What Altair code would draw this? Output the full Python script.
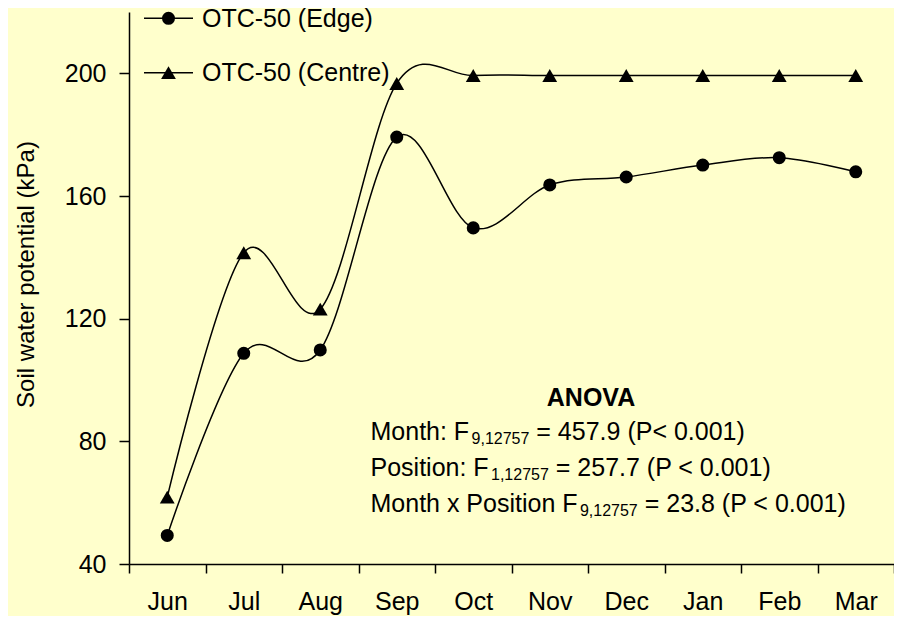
import altair as alt
import pandas as pd

months = ["Jun", "Jul", "Aug", "Sep", "Oct", "Nov", "Dec", "Jan", "Feb", "Mar"]
series_names = ["OTC-50 (Edge)", "OTC-50 (Centre)"]
edge = [49.3, 108.7, 109.8, 179.2, 149.6, 163.6, 166.2, 170.1, 172.5, 167.9]
centre = [61.8, 141.5, 123.1, 196.7, 199.3, 199.3, 199.3, 199.3, 199.3, 199.3]
y_ticks = [40, 80, 120, 160, 200]
y_domain = [40, 220]
y_title = "Soil water potential (kPa)"
anova_title = "ANOVA"
anova_lines = [
    ("Month: F", "9,12757", " = 457.9 (P< 0.001)"),
    ("Position: F", "1,12757", " = 257.7 (P < 0.001)"),
    ("Month x Position F", "9,12757", " = 23.8 (P < 0.001)"),
]

FONT = "Liberation Sans"
BG = "#FFFFCC"
W, H = 765, 552

df = pd.DataFrame({
    "month": months * 2,
    "value": edge + centre,
    "series": [series_names[0]] * len(months) + [series_names[1]] * len(months),
})

# Arial / Liberation Sans advance widths (per 1000 em)
AW = {" ": 278, "M": 833, "o": 556, "n": 556, "t": 278, "h": 556, ":": 278, "F": 611,
      ",": 278, "=": 584, ".": 278, "(": 333, ")": 333, "P": 667, "<": 584, "x": 500,
      "s": 500, "i": 222}
for d in "0123456789":
    AW[d] = 556


def tw(s, size):
    return sum(AW.get(c, 556) for c in s) * size / 1000.0


x_enc = alt.X("month:O", sort=months, bandPosition=0.5,
              scale=alt.Scale(type="band", paddingInner=0, paddingOuter=0),
              axis=alt.Axis(title=None, tickBand="extent", labelAngle=0, labelFontSize=25,
                            labelBaseline="alphabetic", labelPadding=36, tickSize=9,
                            domainWidth=1.5, tickWidth=1.5, grid=False))
y_enc = alt.Y("value:Q", scale=alt.Scale(domain=y_domain, nice=False, zero=False),
              axis=alt.Axis(values=y_ticks, title=y_title, grid=False, tickSize=10,
                            labelPadding=13, labelFontSize=25, titleFontSize=24,
                            titleFontWeight="normal", titleX=-96, titleY=262,
                            titleAngle=-90, titleBaseline="alphabetic", titleAlign="center",
                            domainWidth=1.5, tickWidth=1.5))

base = alt.Chart(df)
lines = base.mark_line(interpolate="cardinal", color="black", strokeWidth=1.5).encode(
    x=x_enc, y=y_enc, detail="series:N")
points = base.mark_point(filled=True, color="black", opacity=1).encode(
    x=x_enc, y=y_enc,
    shape=alt.Shape("series:N", scale=alt.Scale(domain=series_names, range=["circle", "triangle-up"]), legend=None),
    size=alt.Size("series:N", scale=alt.Scale(domain=series_names, range=[170, 220]), legend=None),
)

layers = [lines, points]

# manual legend
leg_y = [6.3, 60.7]
shapes = ["circle", "triangle-up"]
sizes = [170, 220]
for name, ly, shp, sz in zip(series_names, leg_y, shapes, sizes):
    ldf = pd.DataFrame({"t": [name]})
    lc = alt.Chart(ldf)
    layers.append(lc.mark_rule(color="black", strokeWidth=1.5).encode(
        x=alt.value(15), x2=alt.value(64), y=alt.value(ly)))
    layers.append(lc.mark_point(filled=True, color="black", opacity=1, shape=shp, size=sz).encode(
        x=alt.value(39.5), y=alt.value(ly)))
    layers.append(lc.mark_text(align="left", baseline="alphabetic", fontSize=25, font=FONT,
                               color="black").encode(
        x=alt.value(73), y=alt.value(ly + 8.7), text="t:N"))

# ANOVA annotation
layers.append(alt.Chart(pd.DataFrame({"t": [anova_title]})).mark_text(
    align="center", baseline="alphabetic", fontSize=25, fontWeight="bold", font=FONT,
    color="black").encode(x=alt.value(462), y=alt.value(394), text="t:N"))

MAIN, SUB = 25, 16
x0 = 241.5
for i, (a, sub, b) in enumerate(anova_lines):
    by = 428 + i * 36
    xa = x0
    xs = xa + tw(a, MAIN) + 2.4
    xb = xs + tw(sub, SUB)
    lead = len(b) - len(b.lstrip(" "))
    xb += tw(b[:lead], MAIN)
    segs = [(a.rstrip(" "), xa, by, MAIN), (sub, xs, by + 3.5, SUB), (b.lstrip(" "), xb, by, MAIN)]
    for txt, xx, yy, fs in segs:
        layers.append(alt.Chart(pd.DataFrame({"t": [txt]})).mark_text(
            align="left", baseline="alphabetic", fontSize=fs, font=FONT, color="black").encode(
            x=alt.value(xx), y=alt.value(yy), text="t:N"))

chart = alt.layer(*layers).properties(
    width=W, height=H, background=BG,
    autosize=alt.AutoSizeParams(type="none"),
    padding={"left": 121, "top": 4, "right": 0, "bottom": 52},
).configure_view(stroke=None).configure_axis(
    labelFont=FONT, titleFont=FONT, labelColor="black", titleColor="black",
    domainColor="black", tickColor="black",
)

chart.save("out.html", embed_options={"renderer": "svg", "actions": False})
